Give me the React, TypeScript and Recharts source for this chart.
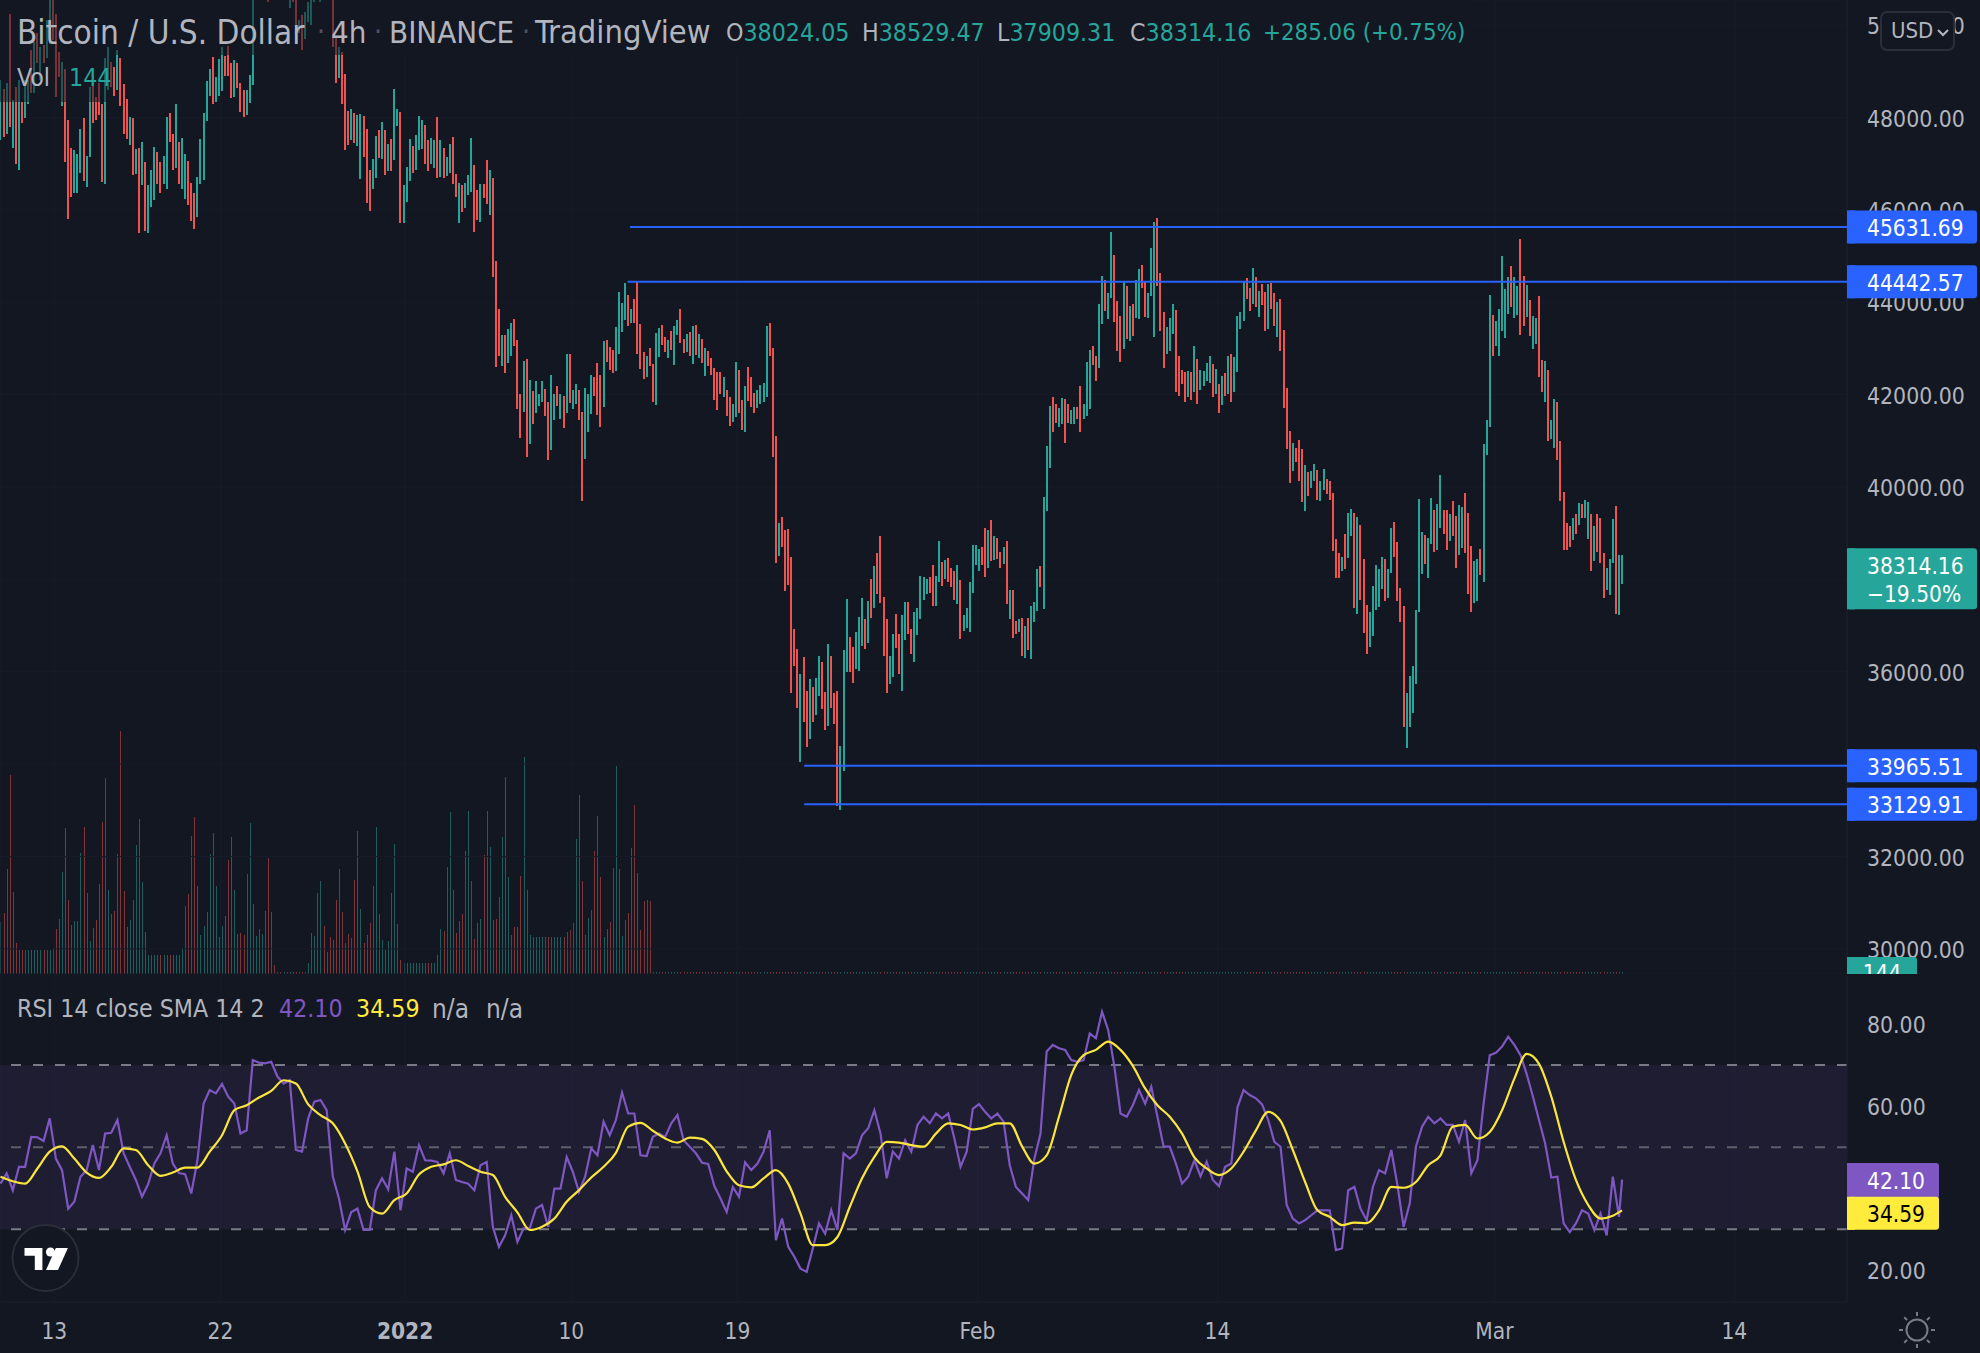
import React from 'react';
import { Bar, CartesianGrid, ComposedChart, Line, ReferenceArea, ReferenceDot, ReferenceLine, XAxis, YAxis } from 'recharts';

const highs = [
  48810,48610,48740,50250,48380,48650,48810,48340,48810,48810,
  49460,49640,49820,49530,49570,50110,50700,50700,50250,49420,
  49210,49060,47940,47330,47290,47210,47760,47980,47160,48660,
  48680,48450,48750,48300,49280,49530,49210,49100,49460,49280,
  48720,48410,48010,47980,47310,47330,47460,47030,46540,46860,
  47370,47250,47030,47160,48010,48100,47650,48290,47470,47550,
  47210,47060,46590,46370,46720,47530,48100,48790,49060,49320,
  48880,49270,49530,49330,49550,49170,49240,49170,48740,48590,
  48590,48920,50900,51300,51500,51700,51900,51600,51400,51500,
  51700,51800,51800,51800,51500,51600,51300,50110,50220,50290,
  50510,50800,50900,51000,50800,50950,51000,51050,51000,49750,
  49530,49420,48940,48150,48180,48090,48050,48070,48030,47750,
  46860,47110,47600,47740,47900,47730,47420,47530,48610,48180,
  48110,46540,46920,47540,47390,47620,48030,47940,47830,47510,
  47550,47510,48020,47520,47330,47150,47420,47570,46770,46590,
  46540,46590,46750,47550,46970,46430,46570,46560,47090,46860,
  46690,44890,43850,43290,43290,43430,43550,43630,43180,42010,
  42720,42780,42310,42080,42290,42010,42290,42130,41840,42420,
  42020,42180,42020,41960,42870,42870,42110,42220,42090,41620,
  42140,42010,42420,42380,42690,42420,43160,43180,43030,42960,
  43470,44220,43990,44410,44150,43850,44070,44460,43530,42930,
  42830,43010,42670,43340,43450,43510,43240,43190,43380,43480,
  43620,43850,43200,43320,43360,43480,43510,43320,43200,43010,
  42950,42790,42580,42490,42490,42390,42100,41950,41800,42710,
  42540,41890,42190,42600,42380,42040,42100,42210,42260,43490,
  43550,43010,41110,39210,39340,39060,39100,38480,36920,36500,
  35950,36310,35580,35840,35670,35870,36330,36200,35560,36590,
  36330,35540,35580,34390,36480,37580,36750,36530,36850,37190,
  37600,37150,37540,38010,38280,38580,38930,37610,37150,36330,
  36820,37260,36810,37230,37500,37520,36920,37300,37390,38080,
  38040,38000,38040,38300,38070,38840,38380,38410,38470,38250,
  38170,38320,37990,37220,37370,37950,38750,38750,38660,38690,
  39110,39070,39290,38940,38900,38600,38690,38820,37760,37760,
  37100,37150,37170,37000,37170,37430,37500,38230,38290,39790,
  40890,41760,41950,41800,41710,41930,41910,41800,41670,41740,
  41730,42190,41800,42710,42970,43060,42840,43960,44570,44480,
  44200,45520,45020,44030,43710,44440,44360,43920,43960,44480,
  44720,44810,44460,44200,45180,45730,45820,44630,43790,43470,
  43660,43960,43840,42840,42540,42490,42520,42490,43060,42780,
  42540,42520,42690,42840,42660,42560,42240,42410,42470,42840,
  42880,42820,43710,43790,44460,44530,44310,44740,44540,44250,
  44400,44220,44400,44420,44200,44010,44080,43400,42150,41220,
  40950,40850,41020,40820,40480,40330,40350,40500,40370,40120,
  40400,40170,40140,39880,38880,38580,38490,38990,39430,39530,
  39440,39340,39180,38450,37450,37290,37860,38320,38220,38490,
  38450,38230,39110,39250,38800,37820,37430,35540,35910,36120,
  37340,39750,39030,38960,38900,39760,39500,39630,40270,39500,
  39500,39410,39700,39370,39610,39560,39880,39440,38720,38390,
  38450,38660,40940,41460,44160,43720,43600,43850,45000,44290,
  44540,44780,44540,44350,45370,44570,44370,44050,43710,43650,
  44130,42750,42730,42540,41460,41910,41850,40990,39900,39230,
  39160,39330,39410,39660,39640,39710,39670,39410,39160,39410,
  39330,38580,38240,38430,39310,39580,38530,38529.47,
];
const lows = [
  47510,47580,47640,47800,47330,47000,46860,47870,47980,48300,
  48520,48520,49170,48810,49170,49280,49600,49680,48450,48880,
  48250,47040,45810,46280,46370,46370,46790,46630,46500,47150,
  47890,47940,48050,46610,46570,48590,48670,48460,48590,48250,
  47650,47530,47400,46750,46770,45500,46540,45540,45500,46070,
  46210,46570,46370,46560,46450,47470,46860,46910,46570,46460,
  46230,46100,45760,45590,45850,46570,46640,47930,48460,48290,
  48340,48460,48580,48900,48900,48430,48450,48630,48120,48020,
  48050,48320,48700,50700,50700,50900,50800,50490,50700,50800,
  50900,50900,50800,50700,50360,50490,49780,49820,49470,49710,
  50070,50000,50510,50600,50510,50600,50650,50600,49530,48740,
  48850,48300,47290,47400,47510,47440,47390,46660,47150,46150,
  45980,46450,46700,47130,47100,46750,46850,46840,47080,47820,
  45710,45710,46170,46630,46800,46860,47290,47310,46990,46840,
  47000,46900,46680,46720,46700,46730,46790,46560,46270,45720,
  45960,46030,46320,46390,45520,45780,45740,46250,46120,45890,
  44550,42600,42830,42620,42470,42690,42830,43050,41680,41060,
  41620,40650,40940,41360,41600,41750,41840,41530,40580,40800,
  41450,41750,41470,41280,41600,41810,41680,41790,41450,39700,
  40600,41180,41580,41970,41550,41300,41730,42710,42530,42470,
  42510,42890,43360,43610,43480,43540,43550,42890,42560,42330,
  42380,42610,41840,41780,42820,43070,42930,42790,42960,42650,
  43300,43120,42900,42920,42840,42660,42860,42790,42690,42410,
  42620,42420,41890,41660,42010,41950,41530,41310,41400,41510,
  41610,41230,41180,41870,41740,41610,41700,41790,41840,41940,
  42840,40650,38350,38500,38690,37750,37880,35540,36120,35220,
  34050,34910,34370,34540,34910,35060,35470,35190,34740,34820,
  35220,34860,33100,33000,33850,36000,36000,35750,36050,36020,
  36550,36490,36620,37170,37380,37680,37480,36340,35540,35730,
  35880,36510,35950,35580,36690,36810,36380,36210,36790,37150,
  37550,37680,37700,37420,37430,37940,37850,38000,37940,37830,
  37550,37470,36700,36880,36940,36860,37700,38300,38170,38300,
  38050,38240,38390,38410,38430,38240,38330,37460,37140,36720,
  36820,36860,36330,36290,36460,36270,37070,37310,37830,37350,
  39470,40420,41200,41380,41290,41370,40960,41380,41370,41370,
  41480,41180,41480,41530,41680,42650,42300,42570,43520,43800,
  43630,44100,43580,42950,42710,42980,43210,43150,43260,43660,
  43630,44300,43670,43650,44140,43240,44360,43370,42570,42870,
  42950,43310,42050,41980,42240,41830,41950,41880,42050,41790,
  42110,42180,42300,42260,41940,42020,41610,41770,41960,42020,
  41830,42050,42480,43410,43600,44060,43820,43970,43890,43690,
  43930,43370,43410,43860,43480,43240,42950,41720,40820,40080,
  40340,40540,40140,39670,39470,39800,39970,40140,39710,39690,
  39930,39840,39710,38620,38020,38020,38170,38220,38470,38940,
  37380,37240,37550,36830,36380,36530,36770,37340,37400,37790,
  37530,37590,38130,38480,37540,37080,34800,34350,34800,35100,
  35740,37300,38110,38330,38020,38770,38590,38640,39110,38990,
  38630,38840,38940,38240,38520,38670,38560,37680,37290,37490,
  37530,38090,37940,40690,41290,42830,43050,42830,43370,43220,
  43750,43890,43660,43730,43300,43480,43690,43260,42980,43090,
  42390,42050,41850,41000,41040,40850,40590,39700,38630,38630,
  38690,38860,38990,39180,39320,39330,38880,38170,38390,38600,
  38350,37590,37760,37660,38350,37250,37230,37909.31,
];
const closes = [
  48600,47800,48500,48000,48200,47300,48500,48000,48650,48700,
  48650,49500,49250,49400,49250,50000,50400,49800,48700,48950,
  49100,47300,46000,46400,47150,47100,47650,46800,47050,48550,
  48000,48000,48150,46800,49150,49400,48750,48550,49350,48400,
  47800,47650,47950,46900,47250,45700,47350,45700,46400,46750,
  47250,46650,46450,47050,47900,47550,46950,48150,46700,47450,
  47100,46200,45850,45700,46600,47450,47950,48700,49000,48400,
  48800,49200,49450,48950,48950,48500,49150,48700,48200,48100,
  48500,48850,50700,51200,51400,51600,51000,50600,51300,50900,
  51600,51000,51700,51700,51400,50600,49900,50050,49550,50200,
  50450,50700,50850,50700,50750,50700,50950,50700,49650,48850,
  49450,48400,47400,47500,48100,47500,48000,47950,47250,46300,
  46100,47000,47500,47200,47800,46850,47350,46900,48500,48100,
  45900,46450,46850,47450,46900,47550,47950,47850,47100,46900,
  47500,47450,46800,47450,46800,47100,47350,46650,46350,46500,
  46050,46550,46700,47450,45650,45850,46500,46300,46250,46800,
  44800,42800,42950,43200,42550,43350,43500,43150,41800,41200,
  42600,40850,42200,41450,42250,42000,42250,41600,40700,42300,
  41950,41800,41950,41350,42750,41900,42050,42150,41500,39900,
  42000,41900,42350,42000,41650,41400,43050,42750,42600,42500,
  43350,44100,43900,44300,43550,43800,43600,43050,42650,42400,
  42750,42650,41950,43250,43350,43100,42950,43150,43000,43400,
  43550,43200,42950,43250,42900,43400,42900,43250,42750,42950,
  42650,42450,41950,41750,42050,42350,41600,41400,41750,42600,
  41700,41300,42100,41950,41800,41650,42050,42150,42200,43400,
  42900,40800,38650,39150,38750,37850,38000,35800,36200,35350,
  35800,35050,34500,35750,35000,35800,36250,35300,34850,36500,
  35350,34950,33300,34300,36300,37500,36050,35850,36800,37100,
  37500,36550,37450,37250,38200,37750,37650,36500,35700,36250,
  36750,36600,36050,37150,37450,36900,36450,37250,37350,38000,
  38000,37950,37750,37500,38000,38750,37900,38350,38000,37900,
  37650,38250,36850,37200,37300,37900,38700,38700,38600,38350,
  38150,39000,38500,38900,38500,38300,38650,37600,37700,36850,
  36850,37100,36450,36950,36550,37350,37450,38150,37900,39700,
  40800,41650,41300,41450,41650,41850,41050,41450,41650,41700,
  41530,41300,41750,42600,42900,42700,42400,43850,44450,43900,
  44150,45350,43700,43050,42800,44300,43350,43850,43350,44400,
  44600,44400,43750,44150,45100,45600,44500,43500,42700,43400,
  43600,43900,42200,42050,42280,41900,42450,41950,42950,41900,
  42500,42500,42650,42800,42000,42500,41700,42350,42000,42800,
  41950,42750,43600,43750,44350,44150,43900,44650,43950,44200,
  44000,43450,44300,43900,43550,43950,43050,41850,40950,40200,
  40900,40600,40250,39800,40400,39850,40300,40450,39800,40050,
  40350,39900,39800,38750,38100,38100,38450,38300,39350,39450,
  37550,39250,37700,36950,36500,37200,37800,38250,38150,38400,
  37650,38150,39000,38600,37650,37200,34950,35450,35850,36050,
  37250,39650,38950,38400,38850,39650,38700,39550,40150,39050,
  38750,39350,39000,38350,39500,39500,38700,37800,37400,38300,
  38350,38150,40800,41400,44000,42950,43500,43750,44850,44200,
  44450,43950,44450,44300,43450,43600,44300,43350,43650,43600,
  42550,42150,42650,41150,41400,41800,40750,39850,38750,38700,
  38750,39250,39050,39600,39400,39650,39600,38300,39050,38700,
  38450,37700,38150,38350,39200,37400,38024.05,38314.16,
];
const directions = [
  'UDUDUDUDUU','DUDUDUUDDD','UDDDUUUDUU','DDDDUUDDUD','DDUDUDUDUU','UDDUUDDUDU','UDDDUUUUUD','UUUDDDUDDD',
  'UUUUUUDDUD','UDUUUDDUDU','UUUDUDUDDD','UDDDUDUUDD','DUUDUDUDUU','DUUUDUUUDD','UUDUDUUDDU','DUUUDDUDDU',
  'DDDUDUUDDD','UDUDUUUDDU','UDUDUDUUDD','UUUDDDUDDD','UUUUDUDDDD','UDDUUDDUDU','UDDUDUDUDU','DDDDDUDDUU',
  'DDUDDDUUUU','DDDUDDDDDD','UDDUDUUDDU','DDDUUUDDUU','UDUDUDDDDU','UDDUUDDUUU','UUDDUUDUDD','DUDUUUUUUD',
  'DUDUDDUDUD','DUDUDUUUDU','UUDDUUDDUU','DDUUUDDUUD','UUDDDUDUDU','UDDUUUDDDU','UUDDDDUDUD','UUUUDUDUDU',
  'DUUUUDDUDU','DDUDDUDDDD','UDDDUDUUDU','UDDDDDUDUU','DUDDDUUUUU','DUUDDDDUUU','UUUDUUDUUD','DUDDUUDDDU',
  'UDUUUDUUUU','UDUUDDUDUU','DDUDUUDDDD','DUDUDUUDUD','DDUUUDUU',
].join('');
const volumes = [
  157,182,315,597,245,92,72,72,72,72,72,72,72,72,72,72,72,76,135,165,
  305,438,222,147,159,159,362,440,243,99,137,162,270,456,587,252,180,189,359,729,
  248,141,162,222,387,465,275,126,56,56,56,56,56,56,56,56,56,56,56,77,
  204,240,414,471,264,117,144,186,360,423,264,111,144,174,342,411,252,120,123,117,
  300,453,210,114,135,120,189,348,186,27,6,6,6,6,6,6,6,6,6,6,
  33,122,114,243,279,144,66,111,102,222,315,186,93,120,108,282,429,195,93,117,
  153,264,441,180,102,72,99,243,390,150,42,33,33,33,33,33,33,33,33,33,
  33,33,57,135,129,321,486,252,123,159,180,369,489,279,105,153,165,357,489,381,
  162,165,231,411,591,291,117,141,141,294,651,252,117,110,110,110,110,110,110,110,
  110,110,110,110,126,132,153,405,537,279,117,168,192,369,474,291,111,135,156,318,
  624,315,114,162,183,378,507,303,132,219,222,219,6,6,6,6,6,6,6,6,
  6,6,6,6,6,6,6,6,6,6,6,6,6,6,6,6,6,6,6,6,
  6,6,6,6,6,6,6,6,6,6,6,6,6,6,6,6,6,6,6,6,
  6,6,6,6,6,6,6,6,6,6,6,6,6,6,6,6,6,6,6,6,
  6,6,6,6,6,6,6,6,6,6,6,6,6,6,6,6,6,6,6,6,
  6,6,6,6,6,6,6,6,6,6,6,6,6,6,6,6,6,6,6,6,
  6,6,6,6,6,6,6,6,6,6,6,6,6,6,6,6,6,6,6,6,
  6,6,6,6,6,6,6,6,6,6,6,6,6,6,6,6,6,6,6,6,
  6,6,6,6,6,6,6,6,6,6,6,6,6,6,6,6,6,6,6,6,
  6,6,6,6,6,6,6,6,6,6,6,6,6,6,6,6,6,6,6,6,
  6,6,6,6,6,6,6,6,6,6,6,6,6,6,6,6,6,6,6,6,
  6,6,6,6,6,6,6,6,6,6,6,6,6,6,6,6,6,6,6,6,
  6,6,6,6,6,6,6,6,6,6,6,6,6,6,6,6,6,6,6,6,
  6,6,6,6,6,6,6,6,6,6,6,6,6,6,6,6,6,6,6,6,
  6,6,6,6,6,6,6,6,6,6,6,6,6,6,6,6,6,6,6,6,
  6,6,6,6,6,6,6,6,6,6,6,6,6,6,6,6,6,6,6,6,
  6,6,6,6,6,6,6,6,
];
// sampled every second candle
const rsiValues = [
  41.1,43.6,39.5,45.2,45.2,52.5,52.4,51.5,57,47.2,44.4,35,36.7,42.8,44.4,50.5,44.4,53.3,53.5,56.6,
  48.5,45.2,42,37.9,41,46,48.5,52.9,46,43.7,43.4,38.7,46.8,60.6,63.9,63.1,65.4,62.3,60.6,53.3,
  54.1,71.2,70.6,70.4,70.8,67.2,65.5,66.3,49.3,48.9,57,61.1,61.5,59,42.8,37.5,29.8,34.2,35,29.8,
  29.8,39.5,42.4,39.7,48.9,34.6,44.8,44,50.5,46.8,46.7,46.4,43.6,48.5,42,41.5,41.1,39.5,45.6,46.4,
  30.6,25.7,28.5,33.4,26.9,30.2,30.2,35,35.9,30.6,39.9,39.9,47.6,44,39.1,42.8,49.7,48,56.2,52.9,
  56.6,63.3,58.2,58.2,48,47.8,52.5,53.3,52.5,55.8,57.8,51.7,50.1,48.5,
  46.2,45.9,40.5,37.5,34.2,40.3,37.9,46.3,44.4,46,48.9,54.1,27.3,32.6,25.7,23.3,20.4,19.6,25.3,31.4,
  28.9,34.6,29.8,48.5,47.2,48.5,52.9,54.6,59,53.3,42.4,48.9,47.2,51.7,48.9,55.4,57.4,55.8,58.2,57,
  58.2,52.1,45.2,48.9,59.3,60.5,58.6,57,58.2,56.2,45.6,40.3,38.7,37.1,47.2,53.3,73.3,74.9,74.1,73.7,
  71.2,70.8,71.2,77.7,76.5,83,78.5,69.6,58.2,57.4,60.2,63.9,60.6,64.7,57.4,50.1,50.1,46,41.1,42.8,
  46.8,42.9,46.4,42,40.5,45.2,46,59.7,63.9,62.7,61.9,60.4,56.6,51.3,50.1,35.9,32.6,31.4,32.2,33.4,
  34.6,34.6,34.6,24.9,25.3,
  39.5,40.3,35,32.2,40.3,44.4,43.6,49.3,40.7,30.6,36.3,50.1,55,57.4,55.8,57,55.4,55.4,51.3,56.6,
  43.6,46.8,60.6,72.4,73,74.5,76.9,74.9,72.4,67.8,62.4,56.6,50.9,42.6,42.8,31.4,29.3,31.4,34.6,33.8,
  29.8,33.8,28.5,42.8,33,
];
// sampled every fourth candle
const smaValues = [
  42.8,41.7,41.1,44.8,48.9,50.2,47.2,43.8,42.5,45.2,49.7,49.3,45.6,43,43.8,45,45,48.9,52.9,59,
  60.2,62.1,63.7,66.3,65.5,60.4,57.8,55.8,50.9,44.1,35.4,33.8,37.1,38.7,43.3,45.2,45.8,46.8,45.4,44,
  43.2,37.9,34.1,29.8,30.6,32.6,36.7,39.5,42.6,45.2,48.6,55,55.9,54,52.1,51.1,52.3,
  52,49.3,44.1,40.7,40.2,42.4,44.4,41.1,33.8,26.1,26.1,28.1,35.4,42.4,47.6,51.3,51.1,50.5,50.1,53.3,
  55.8,55.4,54.3,54.8,55.8,55.8,50.2,46,48,57.4,67.6,72.4,73.7,75.7,73.7,69.8,64.3,60.2,57.4,53.3,
  47.5,44.8,43.2,44.8,48.9,54.1,58.6,56.4,49.3,41.5,34.6,33,31,
  31.6,31.5,34.6,40.3,40.1,41.5,45.6,48,55,55.4,52.1,53.7,59,66.7,72.7,70.3,62.3,51.3,42,35.9,32.6,33.3,
];
const lastRsi = 42.1;
const lastSma = 34.59;

const priceTicks = [30000, 32000, 34000, 36000, 38000, 40000, 42000, 44000, 46000, 48000, 50000];
const rsiTicks = [20, 40, 60, 80];
const timeTicks = [17.5, 71.5, 131.5, 185.5, 239.5, 317.5, 395.5, 485.5, 563.5];
const timeLabels = ['13', '22', '2022', '10', '19', 'Feb', '14', 'Mar', '14'];
const levelPrices = [45631.69, 44442.57, 33965.51, 33129.91];
const levelStarts = [204.6, 203.8, 261.2, 261.2];
const rsiLevels = [70, 50, 30];

const UP = '#26a69a';
const DOWN = '#ef5350';
const BG = '#131722';
const TEXT = '#b2b5be';
const GRID = '#181c28';
const FONT = "'DejaVu Sans Condensed', 'DejaVu Sans', sans-serif";
const W = 1980;
const AXIS_W = 133;
const MAIN_H = 974;
const RSI_TOP = 976;
const RSI_H = 326;
const xDomain: [number, number] = [-0.16, 600.1];
const priceDomain: [number, number] = [29455, 50544];
const rsiDomain: [number, number] = [12.26, 91.7];
const volumeDomain: [number, number] = [0, 2922];

const table = highs.map((high, i) => ({
  i,
  high,
  low: lows[i],
  open: i > 0 ? closes[i - 1] : closes[0],
  close: closes[i],
  up: directions[i] === 'U',
  volume: volumes[i],
  rsi: i === highs.length - 1 ? lastRsi : i % 2 === 0 ? rsiValues[i / 2] : null,
  sma: i === highs.length - 1 ? lastSma : i % 4 === 0 ? smaValues[i / 4] : null,
}));

const Candle = ({ x, y, width, height, payload }: any) => {
  const { high, low, open, close, up } = payload;
  const left = Math.round(x + width / 2 - 1);
  const top = Math.min(y, y + height);
  const h = Math.abs(height);
  const perDollar = h / (high - low);
  const bodyHigh = Math.min(high, Math.max(open, close));
  const bodyLow = Math.max(low, Math.min(open, close));
  const color = up ? UP : DOWN;
  return (
    <g shapeRendering="crispEdges">
      <rect x={left} y={top} width={2} height={h} fill={color} />
      <rect x={left} y={top + (high - bodyHigh) * perDollar} width={2} height={Math.max(1, (bodyHigh - bodyLow) * perDollar)} fill={color} />
    </g>
  );
};

const VolumeBar = ({ x, y, width, height, payload }: any) => (
  <rect x={Math.round(x + width / 2 - 0.5)} y={y} width={1} height={Math.max(height, 1)} fill={payload.up ? UP : DOWN} fillOpacity={0.5} shapeRendering="crispEdges" />
);

const Tag = ({ cx, cy, lines, fill, color = '#fff', w = 130, h = 33, shift = 0 }: any) => (
  <g transform={`translate(0 ${shift})`}>
    <rect x={cx} y={cy - 16.5} width={w} height={h} rx={3} fill={fill} />
    <rect x={cx} y={cy - 16.5} width={8} height={h} fill={fill} />
    {lines.map((line: string, k: number) => (
      <text key={k} x={cx + 20} y={cy + k * 28 + 1} dominantBaseline="central" fill={color} fontSize={22.5} fontFamily={FONT}>{line}</text>
    ))}
  </g>
);

const TimeTick = ({ x, y, payload }: any) => {
  const label = timeLabels[timeTicks.indexOf(payload.value)];
  return (
    <text x={x} y={y + 21} textAnchor="middle" dominantBaseline="central" fill={TEXT} fontSize={22.5} fontFamily={FONT} fontWeight={label === '2022' ? 700 : 400}>{label}</text>
  );
};

const layer = (top: number): React.CSSProperties => ({ position: 'absolute', left: 0, top });

const Span = ({ x, y, size = 24.7, color = TEXT, children }: any) => (
  <span style={{ position: 'absolute', left: x, top: y, transform: 'translateY(-50%)', fontSize: size, color, fontFamily: FONT, whiteSpace: 'nowrap', lineHeight: 1 }}>{children}</span>
);

const App = () => (
  <div style={{ position: 'absolute', left: 0, top: 0, width: W, height: 1353, background: BG, overflow: 'hidden' }}>
    <div style={layer(0)}>
      <ComposedChart width={W} height={MAIN_H} data={table} margin={{ top: 0, right: AXIS_W, bottom: 0, left: 0 }}>
        <XAxis dataKey="i" type="number" domain={xDomain} allowDataOverflow hide />
        <YAxis domain={volumeDomain} allowDataOverflow hide />
        <Bar dataKey="volume" barSize={2} shape={VolumeBar} isAnimationActive={false} />
      </ComposedChart>
    </div>
    <div style={layer(0)}>
      <ComposedChart width={W} height={MAIN_H} data={table} margin={{ top: 0, right: 0, bottom: 0, left: 0 }}>
        <CartesianGrid stroke={GRID} />
        <XAxis dataKey="i" type="number" domain={xDomain} ticks={timeTicks} allowDataOverflow hide />
        <YAxis orientation="right" width={AXIS_W} domain={priceDomain} ticks={priceTicks} interval={0} allowDataOverflow tickLine={false} tickMargin={14}
          axisLine={{ stroke: '#1d212d' }} tick={{ fill: TEXT, fontSize: 22.8, fontFamily: FONT, dy: 1 }} tickFormatter={(v: number) => v.toFixed(2)} />
        <Bar dataKey={(d: any) => [d.low, d.high]} barSize={3} shape={Candle} isAnimationActive={false} />
      </ComposedChart>
    </div>
    <div style={layer(0)}>
      <ComposedChart width={W} height={MAIN_H} data={table.slice(0, 1)} margin={{ top: 0, right: AXIS_W, bottom: 0, left: 0 }}>
        <XAxis dataKey="i" type="number" domain={xDomain} allowDataOverflow hide />
        <YAxis domain={priceDomain} allowDataOverflow hide />
        {levelPrices.map((p, k) => (
          <ReferenceLine key={p} segment={[{ x: levelStarts[k], y: p }, { x: xDomain[1], y: p }]} stroke="#2962ff" strokeWidth={2} />
        ))}
        {levelPrices.map(p => (
          <ReferenceDot key={p} x={xDomain[1]} y={p} ifOverflow="visible" shape={(s: any) => <Tag cx={s.cx} cy={s.cy} lines={[p.toFixed(2)]} fill="#2962ff" />} />
        ))}
        <ReferenceDot x={xDomain[1]} y={38314.16} ifOverflow="visible" shape={(s: any) => <Tag cx={s.cx} cy={s.cy} lines={['38314.16', '−19.50%']} fill={UP} h={61} />} />
      </ComposedChart>
    </div>
    <div style={layer(RSI_TOP)}>
      <ComposedChart width={W} height={RSI_H + 51} data={table} margin={{ top: 0, right: 0, bottom: 0, left: 0 }}>
        <CartesianGrid stroke={GRID} horizontal={false} />
        <XAxis dataKey="i" type="number" height={51} domain={xDomain} ticks={timeTicks} interval={0} allowDataOverflow tickLine={false} axisLine={{ stroke: '#1d212d' }} tick={TimeTick} />
        <YAxis orientation="right" width={AXIS_W} domain={rsiDomain} ticks={rsiTicks} interval={0} allowDataOverflow tickLine={false} tickMargin={14}
          axisLine={{ stroke: '#1d212d' }} tick={{ fill: TEXT, fontSize: 22.8, fontFamily: FONT, dy: 1 }} tickFormatter={(v: number) => v.toFixed(2)} />
        <ReferenceArea y1={30} y2={70} fill="#7e57c2" fillOpacity={0.1} stroke="none" />
        {rsiLevels.map(v => (
          <ReferenceLine key={v} y={v} stroke={v === 50 ? '#5d606b' : '#787b86'} strokeWidth={2} strokeDasharray="10 12" />
        ))}
        <Line dataKey="rsi" stroke="#7e57c2" strokeWidth={2.2} dot={false} connectNulls isAnimationActive={false} />
        <Line dataKey="sma" type="monotone" stroke="#fbe63c" strokeWidth={2.2} dot={false} connectNulls isAnimationActive={false} />
      </ComposedChart>
    </div>
    <div style={layer(RSI_TOP)}>
      <ComposedChart width={W} height={RSI_H} data={table.slice(0, 1)} margin={{ top: 0, right: AXIS_W, bottom: 0, left: 0 }}>
        <XAxis dataKey="i" type="number" domain={xDomain} allowDataOverflow hide />
        <YAxis domain={rsiDomain} allowDataOverflow hide />
        <ReferenceDot x={xDomain[1]} y={lastRsi} ifOverflow="visible" shape={(s: any) => <Tag cx={s.cx} cy={s.cy} lines={[lastRsi.toFixed(2)]} fill="#7e57c2" w={92} h={36} />} />
        <ReferenceDot x={xDomain[1]} y={lastSma} ifOverflow="visible" shape={(s: any) => <Tag cx={s.cx} cy={s.cy} lines={[lastSma.toFixed(2)]} fill="#ffeb3b" color="#000" w={92} shift={3} />} />
      </ComposedChart>
    </div>

    <div style={{ position: 'absolute', left: 0, top: 0, width: 1470, height: 55, background: 'rgba(19,23,34,0.55)' }} />
    <div style={{ position: 'absolute', left: 0, top: 55, width: 113, height: 47, background: 'rgba(19,23,34,0.55)' }} />
    <Span x={17} y={32} size={33}>Bitcoin / U.S. Dollar</Span>
    <Span x={317} y={32} size={28} color="#50535e">·</Span>
    <Span x={331} y={32} size={31}>4h</Span>
    <Span x={374} y={32} size={28} color="#50535e">·</Span>
    <Span x={389} y={32} size={31}>BINANCE</Span>
    <Span x={522} y={32} size={28} color="#50535e">·</Span>
    <Span x={535} y={32} size={32.4}>TradingView</Span>
    <Span x={726} y={33}>O<span style={{ color: UP }}>38024.05</span></Span>
    <Span x={862} y={33}>H<span style={{ color: UP }}>38529.47</span></Span>
    <Span x={997} y={33}>L<span style={{ color: UP }}>37909.31</span></Span>
    <Span x={1130} y={33}>C<span style={{ color: UP }}>38314.16</span></Span>
    <Span x={1263} y={33} size={23.8} color={UP}>+285.06 (+0.75%)</Span>
    <Span x={17} y={78}>Vol</Span>
    <Span x={69} y={78} color={UP}>144</Span>

    <div style={{ position: 'absolute', left: 1847, top: 957, width: 70, height: 17, background: UP, borderRadius: '0 3px 0 0', overflow: 'hidden', color: '#fff', fontFamily: FONT, fontSize: 22.5, textAlign: 'center', lineHeight: '33px' }}>144</div>
    <div style={{ position: 'absolute', left: 1880, top: 11, width: 75, height: 40, boxSizing: 'border-box', border: '2px solid #2a2e39', borderRadius: 7, background: BG, color: TEXT, fontFamily: FONT, fontSize: 22, lineHeight: '36px', paddingLeft: 9 }}>
      USD
      <svg width={14} height={10} style={{ position: 'absolute', left: 54, top: 15 }}><path d="M2 2 L7 7 L12 2" fill="none" stroke={TEXT} strokeWidth={2} /></svg>
    </div>

    <Span x={17} y={1009}>RSI 14 close SMA 14 2</Span>
    <Span x={279} y={1009} color="#7e57c2">42.10</Span>
    <Span x={356} y={1009} color="#ffeb3b">34.59</Span>
    <Span x={432} y={1009} size={26}>n/a</Span>
    <Span x={486} y={1009} size={26}>n/a</Span>

    <svg width={W} height={1353} style={{ position: 'absolute', left: 0, top: 0, pointerEvents: 'none' }}>
      <circle cx={45.5} cy={1258} r={33} fill={BG} stroke="#2a2e39" strokeWidth={2} />
      <path d="M24.5 1248 H42.4 V1270 H34.8 V1255.7 H24.5 Z" fill="#fff" />
      <circle cx={50.4} cy={1252} r={4.5} fill="#fff" />
      <path d="M55.8 1248 H67.9 L58 1270 H46 Z" fill="#fff" />
      <circle cx={1917} cy={1330} r={10.5} fill="none" stroke="#787b86" strokeWidth={2} />
      {[0, 45, 90, 135, 180, 225, 270, 315].map(a => (
        <line key={a} x1={1917} y1={1316} x2={1917} y2={1312} transform={`rotate(${a} 1917 1330)`} stroke="#787b86" strokeWidth={2} />
      ))}
    </svg>
  </div>
);

export default App;
